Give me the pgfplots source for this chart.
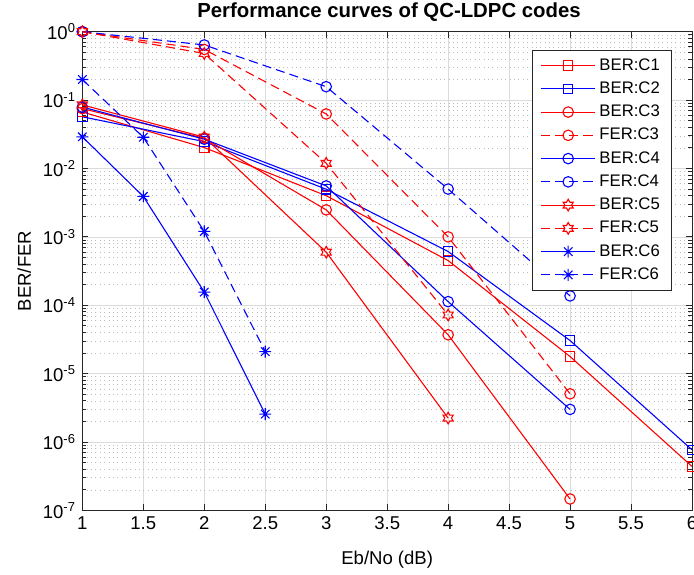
\documentclass[border=0pt]{standalone}
\usepackage{fontspec}
\setmainfont{Liberation Sans}
\usepackage{pgfplots}
\pgfplotsset{compat=1.18}
\usetikzlibrary{calc}

% MATLAB-like hexagram and 8-arm asterisk
\pgfdeclareplotmark{hexa}{%
  \pgfpathmoveto{\pgfpointpolar{90}{\pgfplotmarksize}}%
  \pgfpathlineto{\pgfpointpolar{120}{0.577\pgfplotmarksize}}%
  \pgfpathlineto{\pgfpointpolar{150}{\pgfplotmarksize}}%
  \pgfpathlineto{\pgfpointpolar{180}{0.577\pgfplotmarksize}}%
  \pgfpathlineto{\pgfpointpolar{210}{\pgfplotmarksize}}%
  \pgfpathlineto{\pgfpointpolar{240}{0.577\pgfplotmarksize}}%
  \pgfpathlineto{\pgfpointpolar{270}{\pgfplotmarksize}}%
  \pgfpathlineto{\pgfpointpolar{300}{0.577\pgfplotmarksize}}%
  \pgfpathlineto{\pgfpointpolar{330}{\pgfplotmarksize}}%
  \pgfpathlineto{\pgfpointpolar{0}{0.577\pgfplotmarksize}}%
  \pgfpathlineto{\pgfpointpolar{30}{\pgfplotmarksize}}%
  \pgfpathlineto{\pgfpointpolar{60}{0.577\pgfplotmarksize}}%
  \pgfpathclose\pgfusepathqstroke}
\pgfdeclareplotmark{ast8}{%
  \pgfpathmoveto{\pgfpointpolar{0}{\pgfplotmarksize}}\pgfpathlineto{\pgfpointpolar{180}{\pgfplotmarksize}}%
  \pgfpathmoveto{\pgfpointpolar{90}{\pgfplotmarksize}}\pgfpathlineto{\pgfpointpolar{270}{\pgfplotmarksize}}%
  \pgfpathmoveto{\pgfpointpolar{45}{\pgfplotmarksize}}\pgfpathlineto{\pgfpointpolar{225}{\pgfplotmarksize}}%
  \pgfpathmoveto{\pgfpointpolar{135}{\pgfplotmarksize}}\pgfpathlineto{\pgfpointpolar{315}{\pgfplotmarksize}}%
  \pgfusepathqstroke}

\begin{document}
\begin{tikzpicture}
\begin{axis}[
  scale only axis, width=335.5pt, height=263.45pt,
  ymode=log, xmin=1, xmax=6, ymin=1e-7, ymax=1,
  xtick={1,1.5,...,6}, ytickten={-7,...,0},
  xmajorgrids, ymajorgrids, yminorgrids,
  major grid style={black!14, line width=0.35pt},
  minor grid style={black!26, dotted, line width=0.35pt},
  axis line style={black!85, line width=0.45pt},
  tick style={black!85, line width=0.45pt},
  tick align=inside, major tick length=3.3pt, minor tick length=2pt,
  tick label style={font=\fontsize{10.2}{12}\selectfont},
  /pgf/number format/assume math mode=true,
  yticklabel={10\textsuperscript{\pgfmathparse{int(round(\tick/ln(10)))}\pgfmathresult}},
  title={Performance curves of QC-LDPC codes},
  every axis title/.style={at={(axis description cs:0.503,1.041)}, anchor=center,
    font=\bfseries\fontsize{11.2}{13}\selectfont},
  xlabel={Eb/No (dB)},
  xlabel style={font=\fontsize{10.2}{12}\selectfont, at={(axis description cs:0.5,-0.103)}, anchor=center},
  ylabel={BER/FER},
  ylabel style={font=\fontsize{10.2}{12}\selectfont, at={(axis description cs:-0.0953,0.5)}, anchor=center},
  clip=false,
  every axis plot/.append style={line width=0.6pt},
  legend cell align=left,
  legend image code/.code={\draw[mark repeat=2,mark phase=2,#1] plot coordinates {(0pt,0pt) (15pt,0pt) (30pt,0pt)};},
  legend style={at={(rel axis cs:0.967,0.962)}, anchor=north east,
    font=\fontsize{9.2}{11}\selectfont, draw=black!85, line width=0.45pt,
    nodes={text height=7pt, text depth=2pt, inner sep=1.9pt},
    inner xsep=4.5pt, inner ysep=2pt},
]
\addplot[red, mark=square, mark size=2.6pt] coordinates {(1,0.067) (2,0.0202) (3,0.0040) (4,4.5e-4) (5,1.78e-5) (6,4.4e-7)};
\addlegendentry{BER:C1}
\addplot[blue, mark=square, mark size=2.6pt] coordinates {(1,0.057) (2,0.0247) (3,0.00497) (4,6.1e-4) (5,3.05e-5) (6,7.7e-7)};
\addlegendentry{BER:C2}
\addplot[red, mark=o, mark size=2.9pt] coordinates {(1,0.075) (2,0.0277) (3,0.00248) (4,3.7e-5) (5,1.47e-7)};
\addlegendentry{BER:C3}
\addplot[red, dash pattern=on 5pt off 2.8pt, mark=o, mark size=2.9pt, mark options={solid}] coordinates {(1,1) (2,0.55) (3,0.0627) (4,1.0e-3) (5,5.07e-6)};
\addlegendentry{FER:C3}
\addplot[blue, mark=o, mark size=2.9pt] coordinates {(1,0.079) (2,0.0268) (3,0.00556) (4,1.13e-4) (5,3.0e-6)};
\addlegendentry{BER:C4}
\addplot[blue, dash pattern=on 5pt off 2.8pt, mark=o, mark size=2.9pt, mark options={solid}] coordinates {(1,1) (2,0.64) (3,0.157) (4,0.0050) (5,1.37e-4)};
\addlegendentry{FER:C4}
\addplot[red, mark=hexa, mark size=3.2pt] coordinates {(1,0.085) (2,0.0287) (3,5.97e-4) (4,2.24e-6)};
\addlegendentry{BER:C5}
\addplot[red, dash pattern=on 5pt off 2.8pt, mark=hexa, mark size=3.2pt, mark options={solid}] coordinates {(1,1) (2,0.48) (3,0.0119) (4,7.2e-5)};
\addlegendentry{FER:C5}
\addplot[blue, mark=ast8, mark size=3.3pt] coordinates {(1,0.029) (1.5,0.0039) (2,1.56e-4) (2.5,2.56e-6)};
\addlegendentry{BER:C6}
\addplot[blue, dash pattern=on 5pt off 2.8pt, mark=ast8, mark size=3.3pt, mark options={solid}] coordinates {(1,0.20) (1.5,0.0286) (2,0.0012) (2.5,2.1e-5)};
\addlegendentry{FER:C6}
\end{axis}
\pgfresetboundingbox
\path[use as bounding box] ($(current axis.south west)+(-45.32pt,-35.37pt)$) rectangle ($(current axis.north east)+(1.1pt,17.44pt)$);
\end{tikzpicture}
\end{document}
